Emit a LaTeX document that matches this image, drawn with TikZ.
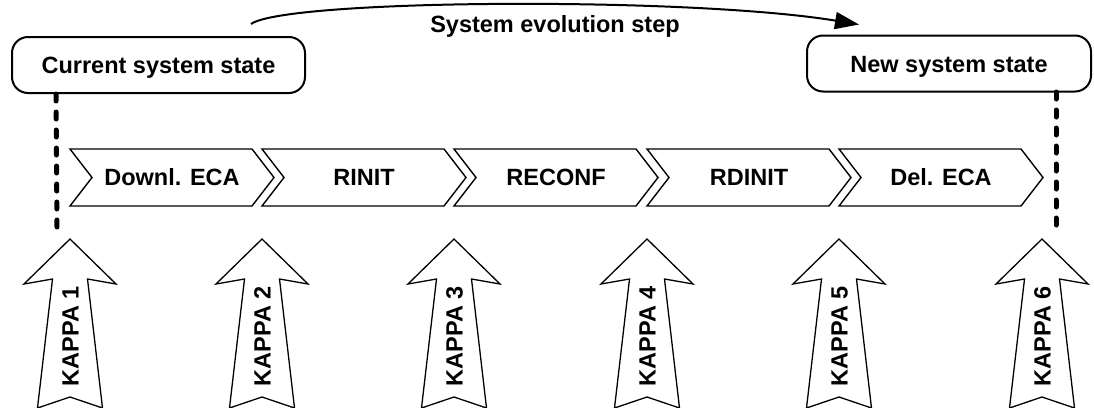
\documentclass[tikz,border=0pt]{standalone}
\usepackage{fontspec}
\setmainfont{Liberation Sans}
\usetikzlibrary{arrows.meta,calc}
\begin{document}
\begin{tikzpicture}[x=1pt,y=-1pt,
  lbl/.style={font=\fontsize{23.5}{28}\selectfont\bfseries, text height=17pt, text depth=0pt, inner sep=0pt},
  statebox/.style={lbl, draw, line width=2pt, rounded corners=16pt, minimum height=56pt},
  chev/.style={draw, line width=1.4pt, line join=miter, fill=white},
  kappa/.style={draw, line width=1.3pt, line join=miter, fill=white},
  dashline/.style={line width=5pt, line cap=round, dash pattern=on 7pt off 11pt},
  evolve/.style={line width=2pt, -{Triangle[length=24pt,width=17pt]}},
]
\useasboundingbox (0,0) rectangle (1094,407);
\clip (0,0) rectangle (1094,407);

% system states
\node[statebox, minimum width=293pt] (cur) at (158.5,65) {Current system state};
\node[statebox, minimum width=284pt] (new) at (949,63.5) {New system state};

% evolution step arc
\coordinate (evA) at ($(cur.north east)+(-55,-12)$);
\coordinate (evB) at ($(new.north west)+(53,-10)$);
\draw[evolve] (evA) .. controls +(35,-25) and +(-170,-28) .. (evB);
\node[lbl] (evlabel) at (555,24) {System evolution step};

% process steps
\foreach \x/\t [count=\i] in {70/Downl. ECA, 262/RINIT, 454/RECONF, 647/RDINIT, 839/Del. ECA} {
  \draw[chev] (\x,149) -- (\x+182,149) -- (\x+204,177.5) -- (\x+182,206) -- (\x,206) -- (\x+22,177.5) -- cycle;
  \node[lbl] (step\i) at (\x+102,177) {\t};
}

% boundaries of the evolution step
\coordinate (bL) at ($(cur.south west)+(45,0)$);
\coordinate (bLend) at (57,229);
\coordinate (bR) at (1056,92);
\coordinate (bRend) at (1056,229);
\draw[dashline] (bL) -- (bLend);
\draw[dashline] (bR) -- (bRend);

% KAPPA checkpoints
\foreach \x [count=\i] in {70,262,454,647,839,1042} {
  \draw[kappa] (\x,239) -- (\x+46,284) -- (\x+17.5,279) -- (\x+32.5,408) -- (\x,397)
     -- (\x-32.5,408) -- (\x-17.5,279) -- (\x-46,284) -- cycle;
  \node[lbl, rotate=90] (kappa\i) at (\x,336) {KAPPA \i};
}
\end{tikzpicture}
\end{document}
